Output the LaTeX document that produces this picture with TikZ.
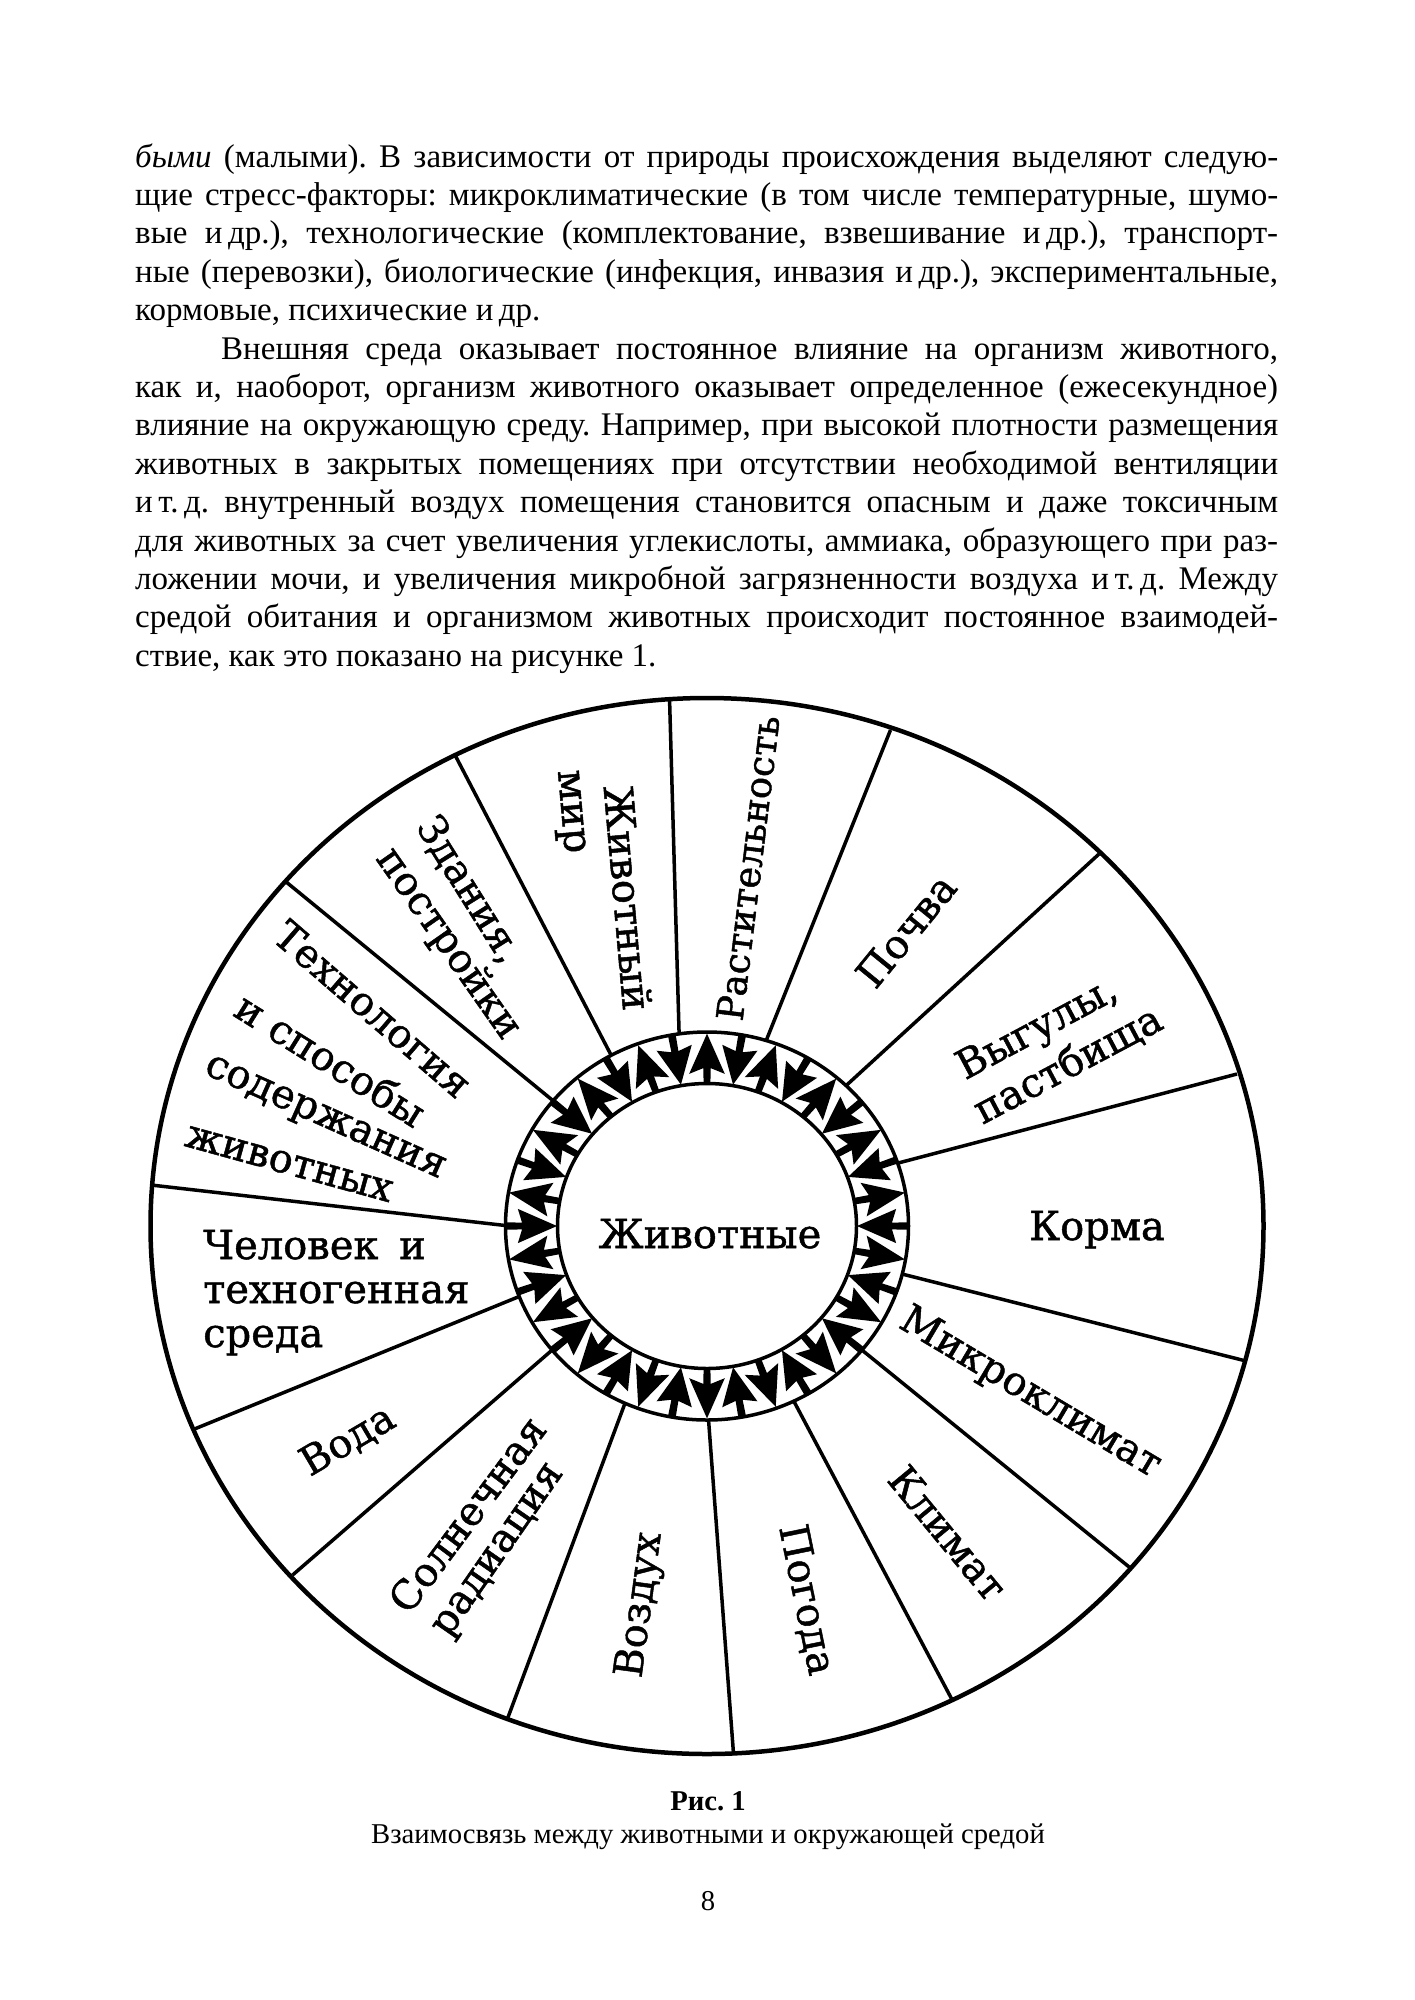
\documentclass[tikz,border=0pt]{standalone}
\usepackage{fontspec}
\setmainfont{Liberation Serif}
\newfontfamily\diagfont[FakeBold=1.2]{DejaVu Serif}
\usetikzlibrary{calc}
\frenchspacing
\begin{document}
\begin{tikzpicture}[x=1pt,y=-1pt,
  bodyline/.style={anchor=base west, inner sep=0pt, font=\fontsize{33}{38.4}\selectfont},
  capline/.style={anchor=base, inner sep=0pt, font=\fontsize{28.7}{33}\selectfont},
  lbl/.style={inner sep=0pt, font=\diagfont\fontsize{40}{44}\selectfont},
  lblsmall/.style={inner sep=0pt, font=\diagfont\fontsize{37}{40}\selectfont},
  spoke/.style={line width=3.5pt},
  ringline/.style={line width=3.5pt},
  rim/.style={line width=4.5pt}]
\useasboundingbox (0,0) rectangle (1414,2000);
\fill[white] (0,0) rectangle (1414,2000);

% ---------- body text ----------
\def\W{1143pt}
\node[bodyline] (l1) at (135,167.0) {\makebox[\W][s]{\textit{быми} (малыми). В зависимости от природы происхождения выделяют следую-}};
\node[bodyline] (l2) at (135,205.4) {\makebox[\W][s]{щие стресс-факторы: микроклиматические (в том числе температурные, шумо-}};
\node[bodyline] (l3) at (135,243.8) {\makebox[\W][s]{вые и\,др.), технологические (комплектование, взвешивание и\,др.), транспорт-}};
\node[bodyline] (l4) at (135,282.2) {\makebox[\W][s]{ные (перевозки), биологические (инфекция, инвазия и\,др.), экспериментальные,}};
\node[bodyline] (l5) at (135,320.6) {кормовые, психические и\,др.};
\node[bodyline] (l6) at (221,359.0) {\makebox[1057pt][s]{Внешняя среда оказывает постоянное влияние на организм животного,}};
\node[bodyline] (l7) at (135,397.4) {\makebox[\W][s]{как и, наоборот, организм животного оказывает определенное (ежесекундное)}};
\node[bodyline] (l8) at (135,435.8) {\makebox[\W][s]{влияние на окружающую среду. Например, при высокой плотности размещения}};
\node[bodyline] (l9) at (135,474.2) {\makebox[\W][s]{животных в закрытых помещениях при отсутствии необходимой вентиляции}};
\node[bodyline] (l10) at (135,512.6) {\makebox[\W][s]{и\,т.\,д. внутренный воздух помещения становится опасным и даже токсичным}};
\node[bodyline] (l11) at (135,551.0) {\makebox[\W][s]{для животных за счет увеличения углекислоты, аммиака, образующего при раз-}};
\node[bodyline] (l12) at (135,589.4) {\makebox[\W][s]{ложении мочи, и увеличения микробной загрязненности воздуха и\,т.\,д. Между}};
\node[bodyline] (l13) at (135,627.8) {\makebox[\W][s]{средой обитания и организмом животных происходит постоянное взаимодей-}};
\node[bodyline] (l14) at (135,666.2) {ствие, как это показано на рисунке 1.};

% ---------- wheel ----------
\coordinate (C) at (707,1226);
\draw[rim] (C) ellipse [x radius=556.5, y radius=528];

\coordinate (oA) at (669.6,701);   \coordinate (iA) at (679,1030);
\coordinate (oB) at (455,755);     \coordinate (iB) at (610,1053);
\coordinate (oC) at (285,881);     \coordinate (iC) at (551,1099);
\coordinate (oD) at (151,1185);    \coordinate (iD) at (501,1225);
\coordinate (oE) at (890.5,730);   \coordinate (iE) at (768,1036);
\coordinate (oF) at (1099,854);    \coordinate (iF) at (850,1082);
\coordinate (oG) at (1237,1074);   \coordinate (iG) at (902,1162);
\coordinate (oH) at (1246,1361);   \coordinate (iH) at (906,1275);
\coordinate (oI) at (1131.6,1569); \coordinate (iI) at (865.6,1353);
\coordinate (oJ) at (951.7,1699);  \coordinate (iJ) at (794.8,1403);
\coordinate (oK) at (733.6,1755);  \coordinate (iK) at (708.7,1422);
\coordinate (oL) at (507,1720);    \coordinate (iL) at (623.7,1406.7);
\coordinate (oM) at (292.6,1575);  \coordinate (iM) at (551,1351);
\coordinate (oN) at (193,1429.6);  \coordinate (iN) at (516.5,1297.6);
\foreach \s in {A,B,C,D,E,F,G,H,I,J,K,L,M,N}
  \draw[spoke] (o\s) -- ($(o\s)!1.08!(i\s)$);

% ring with arrows
\fill[white] (C) ellipse [x radius=201.5, y radius=194];
\begin{scope}[shift={(707,1226)}, yscale=-0.957]
\foreach \k in {0,...,35} {
  \pgfmathsetmacro\t{90+\k*10}
  \ifodd\k
    % inward arrow: apex at inner ring
    \fill ({\t}:150) -- ({\t+5.4}:190) -- ({\t+1.1}:185) -- ({\t+1.1}:203) -- ({\t-1.1}:203) -- ({\t-1.1}:185) -- ({\t-5.4}:190) -- cycle;
  \else
    % outward arrow: apex at outer ring
    \fill ({\t}:201) -- ({\t+6.4}:160) -- ({\t+1.3}:165) -- ({\t+1.3}:148) -- ({\t-1.3}:148) -- ({\t-1.3}:165) -- ({\t-6.4}:160) -- cycle;
  \fi
}
\end{scope}
\draw[ringline] (C) ellipse [x radius=201.5, y radius=194];
\draw[ringline,fill=white] (C) ellipse [x radius=149.5, y radius=142.5];

% ---------- labels ----------
\node[lbl, anchor=base] (zhiv) at (710,1248) {Животные};
\node[lblsmall, rotate=83] (rast) at (748,868) {Растительность};
\node[lbl, rotate=-85] (zhm1) at (628,898) {Животный};
\node[lbl, rotate=-85] (zhm2) at (568,812) {мир};
\node[lbl, rotate=-58] (zd1) at (469,890) {Здания,};
\node[lbl, rotate=-55] (zd2) at (448,944) {постройки};
\node[lbl, rotate=-40.8] (te1) at (373,1009) {Технология};
\node[lbl, rotate=-32] (te2) at (331,1059) {и способы};
\node[lbl, rotate=-24] (te3) at (324,1120) {содержания};
\node[lbl, rotate=-15.4] (te4) at (289,1164) {животных};
\node[lbl, anchor=base west] (ch1) at (203,1259) {Человек\hspace{0.2em} и};
\node[lbl, anchor=base west] (ch2) at (203,1303) {техногенная};
\node[lbl, anchor=base west] (ch3) at (203,1347) {среда};
\node[lbl, rotate=30.4] (voda) at (348,1441) {Вода};
\node[lbl, rotate=53.2] (so1) at (467,1514) {Солнечная};
\node[lbl, rotate=55.2] (so2) at (501,1552) {радиация};
\node[lbl, rotate=82.3] (vozd) at (641,1605) {Воздух};
\node[lbl, rotate=-78.4] (pog) at (806,1600) {Погода};
\node[lbl, rotate=-50.4] (klim) at (948,1533) {Климат};
\node[lbl, rotate=-30.7] (mikr) at (1030,1393.5) {Микроклимат};
\node[lbl, anchor=base] (korm) at (1097,1240) {Корма};
\node[lbl, rotate=28.1] (vy1) at (1038,1030) {Выгулы,};
\node[lbl, rotate=28] (vy2) at (1068,1065) {пастбища};
\node[lbl, rotate=50.8] (poch) at (906,930.5) {Почва};

% ---------- caption ----------
\node[capline, font=\bfseries\fontsize{28.7}{33}\selectfont] (ris) at (708,1810) {Рис. 1};
\node[capline] (cap) at (708,1843) {Взаимосвязь между животными и окружающей средой};
\node[capline] (pg) at (708,1910) {8};
\end{tikzpicture}
\end{document}
